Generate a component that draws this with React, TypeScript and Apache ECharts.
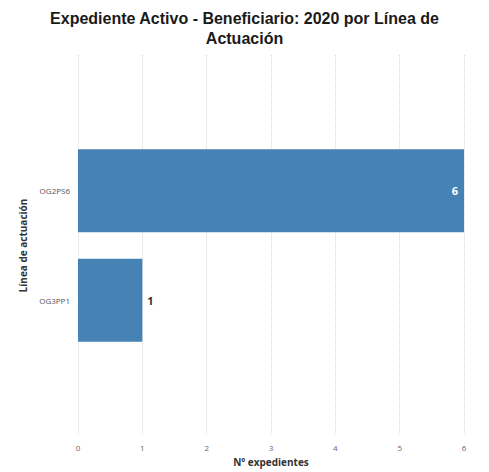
import React, { useEffect, useRef } from "react";
import * as echarts from "echarts";

const categories = ["OG2PS6", "OG3PP1"];
const values = [6, 1];
const xTicks = [0, 1, 2, 3, 4, 5, 6];
const titleText = "Expediente Activo - Beneficiario: 2020 por Línea de\nActuación";

export default function App() {
  const ref = useRef<HTMLDivElement>(null);
  useEffect(() => {
    document.body.style.margin = "0";
    const chart = echarts.init(ref.current!, undefined, { renderer: "svg" });
    chart.setOption({
      animation: false,
      backgroundColor: "#ffffff",
      title: {
        text: titleText,
        left: "center",
        top: 3,
        textStyle: {
          fontFamily: "Liberation Sans",
          fontWeight: "bold",
          fontSize: 16,
          color: "#1a1a1a",
          lineHeight: 20,
        },
      },
      grid: [
        { left: 78, right: 25, top: 55, bottom: 36 },
        { left: 78, right: 25, top: 136, bottom: 117 },
      ],
      xAxis: [
        {
          gridIndex: 0,
          type: "value",
          min: 0,
          max: xTicks[xTicks.length - 1],
          interval: 1,
          axisLine: { show: false },
          axisTick: { show: false },
          axisLabel: { color: "#666", fontSize: 8, fontFamily: "Open Sans", margin: 8 },
          splitLine: { show: true, lineStyle: { type: "dotted", color: "#d8d8d8", width: 1 } },
          name: "Nº expedientes",
          nameLocation: "middle",
          nameGap: 22,
          nameTextStyle: { fontWeight: "bold", fontSize: 10, color: "#333", fontFamily: "Open Sans" },
        },
        {
          gridIndex: 1,
          type: "value",
          min: 0,
          max: xTicks[xTicks.length - 1],
          interval: 1,
          show: false,
          splitLine: { show: false },
        },
      ],
      yAxis: [
        {
          gridIndex: 0,
          type: "value",
          show: false,
          splitLine: { show: false },
        },
        {
          gridIndex: 1,
          type: "category",
          data: categories,
          inverse: true,
          axisLine: { show: false },
          axisTick: { show: false },
          axisLabel: { color: "#555", fontSize: 8, fontFamily: "Open Sans", margin: 8 },
          name: "Línea de actuación",
          nameLocation: "middle",
          nameGap: 44,
          nameTextStyle: { fontWeight: "bold", fontSize: 10, color: "#333", fontFamily: "Open Sans" },
        },
      ],
      series: [
        {
          type: "bar",
          xAxisIndex: 1,
          yAxisIndex: 1,
          data: values.map((v, i) => ({
            value: v,
            label:
              i === 0
                ? { position: "insideRight", color: "#ffffff", distance: 6 }
                : { position: "right", color: "#333", distance: 5 },
          })),
          barCategoryGap: "24%",
          itemStyle: { color: "#4682B4" },
          label: {
            show: true,
            fontWeight: "bold",
            fontSize: 11,
            fontFamily: "Open Sans",
          },
        },
      ],
    });
    return () => chart.dispose();
  }, []);
  return <div ref={ref} style={{ width: 489, height: 472 }} />;
}
